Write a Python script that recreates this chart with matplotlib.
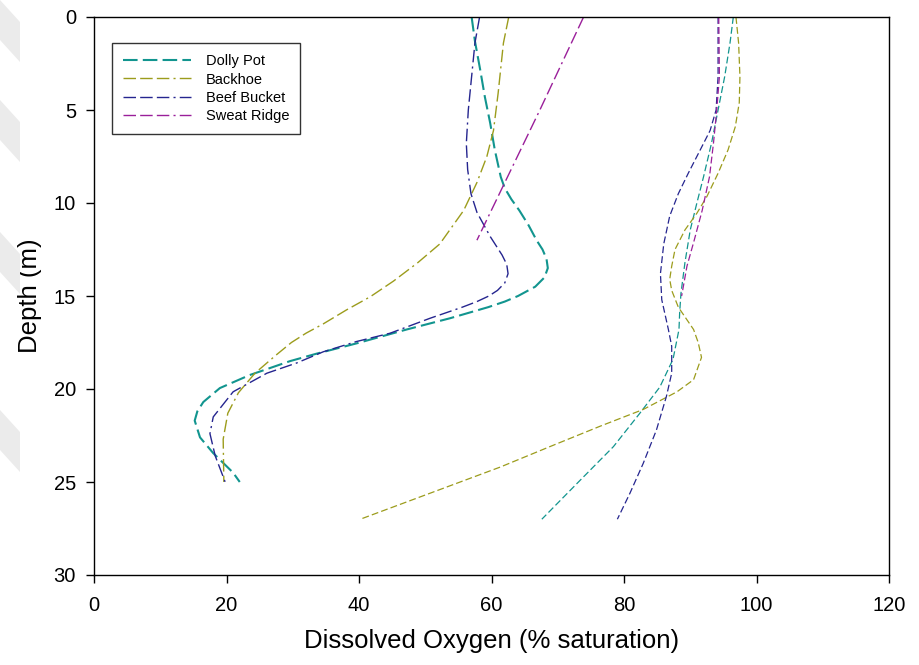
import numpy as np
import matplotlib
matplotlib.use('Agg')
import matplotlib.pyplot as plt
from matplotlib.patches import Polygon

plt.rcParams['font.family'] = ['Liberation Sans', 'DejaVu Sans']

# colours per lake
lakes = ["Dolly Pot", "Backhoe", "Beef Bucket", "Sweat Ridge"]
colors = ["#12958f", "#9c9c1c", "#25258f", "#9a1f9a"]

# first profile set (left hand curves)
dolly_a_depth = [0, 1.3, 2.85, 4.3, 5.7, 7.15, 8.6, 9.2, 9.8, 10.4, 11.2, 12, 12.5, 13, 13.5, 14,
                 14.5, 15, 15.3, 15.6, 16.2, 16.8, 17.55, 18.1, 18.5, 19.25, 19.95, 20.7, 21.2, 21.7,
                 22.6, 23.45, 24.5, 25]
dolly_a_do = [57.0, 57.5, 58.3, 59.0, 59.8, 60.5, 61.4, 62.0, 63.0, 64.2, 65.6, 66.8, 67.7, 68.3, 68.5, 68.0,
              66.6, 64.0, 62.0, 59.5, 53.7, 47.2, 39.6, 33.6, 29.6, 23.5, 19.0, 16.5, 15.6, 15.2,
              16.0, 18.0, 21.0, 22.0]

backhoe_a_depth = [0, 1.4, 4.1, 6.1, 7.5, 8.9, 10.4, 11.45, 12.2, 13.2, 14.2, 15.04, 15.75, 16.5,
                   17.0, 17.5, 18.2, 19.15, 20.2, 21.3, 22.7, 25]
backhoe_a_do = [62.6, 61.8, 61.0, 60.3, 59.3, 57.8, 55.8, 53.7, 52.2, 48.9, 45.2, 41.7, 38.1, 34.6,
                32.0, 29.8, 27.4, 24.3, 21.8, 20.2, 19.5, 19.6]

beef_a_depth = [0, 1.4, 3.2, 5, 6.8, 8.2, 9.5, 10.5, 11.8, 12.8, 13.3, 13.8, 14.3, 14.7, 15.0,
                15.3, 15.6, 16.2, 17.0, 17.45, 18.0, 18.6, 19.15, 20.15, 21.5, 22.4, 23.6, 25]
beef_a_do = [58.2, 57.5, 57.0, 56.5, 56.2, 56.4, 56.9, 57.8, 59.8, 61.6, 62.3, 62.5, 62.0, 60.9, 59.6,
             57.8, 55.6, 50.7, 44.7, 39.6, 34.6, 30.6, 26.1, 21.0, 18.0, 17.5, 18.3, 19.8]

sweat_a_depth = [0, 5, 12]
sweat_a_do = [73.9, 67.3, 57.8]

# second profile set (right hand curves)
dolly_b_depth = [0, 1.4, 3.2, 5, 6.8, 8.6, 10, 11.45, 13.2, 14.85, 15.9, 16.8, 18.4, 19.9, 21.3,
                 23.1, 24.9, 27]
dolly_b_do = [96.5, 96.0, 95.2, 94.2, 93.2, 92.0, 91.0, 90.0, 89.2, 88.6, 88.4, 88.3, 87.4, 85.4, 82.4,
              78.4, 73.4, 67.6]

backhoe_b_depth = [0, 1.4, 3.2, 4.6, 5.9, 7.15, 8.4, 9.66, 10.55, 11.45, 12.5, 13.4, 14.1, 14.7,
                   15.6, 16.8, 17.5, 18.3, 19.5, 20.15, 21.1, 22.0, 23.1, 24.2, 27]
backhoe_b_do = [96.9, 97.3, 97.5, 97.4, 96.8, 95.7, 94.2, 92.5, 91.0, 89.2, 87.7, 87.2, 86.9, 87.2,
                88.2, 90.5, 91.2, 91.7, 90.5, 88.0, 82.9, 76.4, 68.8, 61.3, 40.2]

beef_b_depth = [0, 3.2, 5, 6.1, 7.15, 8.4, 9.5, 10.7, 12.2, 13.8, 15.2, 16.8, 17.7, 19.15, 20.4,
                22.2, 24, 25.6, 27]
beef_b_do = [94.2, 94.2, 93.9, 93.0, 91.5, 89.7, 88.2, 86.9, 86.0, 85.5, 85.7, 86.7, 87.2, 87.2, 86.4,
             84.9, 82.9, 80.9, 79.0]

sweat_b_depth = [0, 3.2, 5, 6.8, 8.6, 10.4, 12, 13.4, 15]
sweat_b_do = [94.3, 94.4, 94.0, 93.5, 92.9, 91.8, 90.6, 89.5, 88.7]

set_a = [(dolly_a_do, dolly_a_depth), (backhoe_a_do, backhoe_a_depth),
         (beef_a_do, beef_a_depth), (sweat_a_do, sweat_a_depth)]
set_b = [(dolly_b_do, dolly_b_depth), (backhoe_b_do, backhoe_b_depth),
         (beef_b_do, beef_b_depth), (sweat_b_do, sweat_b_depth)]

fig = plt.figure(figsize=(9.19, 6.65), dpi=100)
ax = fig.add_axes([94 / 919, 1 - 575 / 665, 795 / 919, 558 / 665])

# faint grey chevrons on the left page edge
for y0 in [0, 100, 232, 410]:
    pts = [(0, y0), (20, y0 + 22), (20, y0 + 62), (0, y0 + 40)]
    pts = [(px / 919, 1 - py / 665) for px, py in pts]
    fig.patches.append(Polygon(pts, closed=True, transform=fig.transFigure,
                               facecolor='#ebebeb', edgecolor='none', zorder=0))

handles = []
for i, (x, d) in enumerate(set_a):
    if i == 0:
        ln, = ax.plot(x, d, color=colors[i], lw=1.5, dashes=(7, 2.5), label=lakes[i])
    else:
        ln, = ax.plot(x, d, color=colors[i], lw=1.0, dashes=(9, 3, 9, 3, 9, 3, 1.5, 3), label=lakes[i])
    handles.append(ln)

for i, (x, d) in enumerate(set_b):
    ax.plot(x, d, color=colors[i], lw=0.9, dashes=(5.5, 2.5))

ax.set_xlim(0, 120)
ax.set_ylim(30, 0)
ax.set_xticks(np.arange(0, 121, 20))
ax.set_yticks(np.arange(0, 31, 5))
ax.tick_params(direction='out', length=6, width=1, labelsize=14.5, top=False, right=False)
ax.tick_params(axis='x', pad=9)
ax.tick_params(axis='y', pad=7)
for s in ax.spines.values():
    s.set_linewidth(1.0)

ax.set_xlabel('Dissolved Oxygen (% saturation)', fontsize=18.5, labelpad=10)
ax.set_ylabel('Depth (m)', fontsize=18.5, labelpad=8)

leg = ax.legend(handles=handles, loc='upper left', bbox_to_anchor=(0.0226, 0.953),
                borderaxespad=0, fontsize=10.5, frameon=True, fancybox=False,
                handlelength=4.7, handletextpad=1.0, labelspacing=0.3,
                borderpad=0.75)
leg.get_frame().set_edgecolor('black')
leg.get_frame().set_linewidth(1.0)

fig.savefig('out.png', dpi=100)
